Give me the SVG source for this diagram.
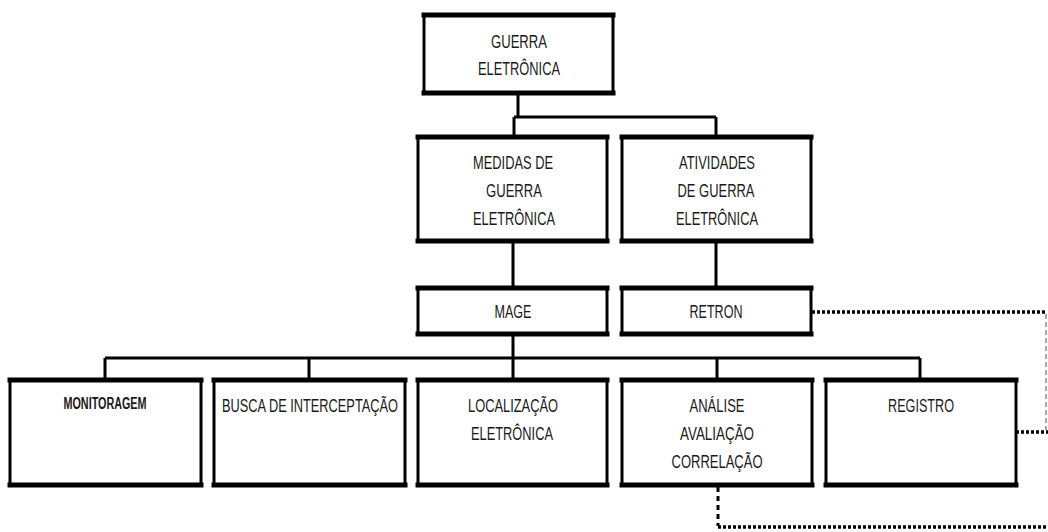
<svg xmlns="http://www.w3.org/2000/svg" width="1048" height="532" viewBox="0 0 1048 532">
  <style>
    .frame { fill: #fff; stroke: #000; stroke-width: 3; }
    .edge { stroke: #000; stroke-width: 5; stroke-linecap: square; }
    .label { font-family: "Liberation Sans", Arial, sans-serif; font-size: 19px; fill: #1a1a1a; text-anchor: middle; }
    .bold { font-weight: bold; font-size: 16px; }
    .link { fill: none; stroke: #000; stroke-width: 3; }
    .dot { fill: none; stroke: #000; stroke-width: 3.5; stroke-dasharray: 3 2; }
    .dash { fill: none; stroke: #000; stroke-width: 3; stroke-dasharray: 5 4; }
    .thin { fill: none; stroke: #888; stroke-width: 1.5; stroke-dasharray: 5 3; }
  </style>

  <!-- connectors -->
  <g id="connectors">
    <path class="link" d="M518 93 V117 M514 117 H716 M514 117 V137 M716 117 V137"/>
    <path class="link" d="M513 241 V287 M716 241 V287"/>
    <path class="link" d="M513 334 V358 M105 358 H920 M105 358 V380 M309 358 V380 M513 358 V380 M717 358 V380 M920 358 V380"/>
    <path class="dot" d="M812 312 H1046"/>
    <path class="thin" d="M1046 314 V430"/>
    <path class="dot" d="M1016 432 H1048"/>
    <path class="dash" d="M718 487 V526"/>
    <path class="dot" d="M718 527 H1048"/>
  </g>

  <g id="guerra-eletronica">
    <rect class="frame" x="424" y="15" width="189" height="78"/>
    <path class="edge" d="M424 15 H613 M424 93 H613"/>
    <text class="label" x="519" y="48" textLength="56" lengthAdjust="spacingAndGlyphs">GUERRA</text>
    <text class="label" x="519" y="75" textLength="82" lengthAdjust="spacingAndGlyphs">ELETRÔNICA</text>
  </g>

  <g id="medidas">
    <rect class="frame" x="418" y="137" width="189" height="104"/>
    <path class="edge" d="M418 137 H607 M418 241 H607"/>
    <text class="label" x="513" y="169" textLength="80" lengthAdjust="spacingAndGlyphs">MEDIDAS DE</text>
    <text class="label" x="514" y="197" textLength="56" lengthAdjust="spacingAndGlyphs">GUERRA</text>
    <text class="label" x="514" y="225" textLength="82" lengthAdjust="spacingAndGlyphs">ELETRÔNICA</text>
  </g>

  <g id="atividades">
    <rect class="frame" x="622" y="137" width="189" height="104"/>
    <path class="edge" d="M622 137 H811 M622 241 H811"/>
    <text class="label" x="717" y="169" textLength="76" lengthAdjust="spacingAndGlyphs">ATIVIDADES</text>
    <text class="label" x="716" y="197" textLength="77" lengthAdjust="spacingAndGlyphs">DE GUERRA</text>
    <text class="label" x="717" y="225" textLength="82" lengthAdjust="spacingAndGlyphs">ELETRÔNICA</text>
  </g>

  <g id="mage">
    <rect class="frame" x="418" y="288" width="189" height="46"/>
    <path class="edge" d="M418 288 H607 M418 334 H607"/>
    <text class="label" x="513" y="318" textLength="37" lengthAdjust="spacingAndGlyphs">MAGE</text>
  </g>

  <g id="retron">
    <rect class="frame" x="622" y="288" width="189" height="46"/>
    <path class="edge" d="M622 288 H811 M622 334 H811"/>
    <text class="label" x="716" y="318" textLength="53" lengthAdjust="spacingAndGlyphs">RETRON</text>
  </g>

  <g id="monitoragem">
    <rect class="frame" x="10" y="380" width="191" height="105"/>
    <path class="edge" d="M10 380 H201 M10 485 H201"/>
    <text class="label bold" x="105" y="409" textLength="83" lengthAdjust="spacingAndGlyphs">MONITORAGEM</text>
  </g>

  <g id="busca">
    <rect class="frame" x="214" y="380" width="191" height="105"/>
    <path class="edge" d="M214 380 H405 M214 485 H405"/>
    <text class="label" x="310" y="412" textLength="176" lengthAdjust="spacingAndGlyphs">BUSCA DE INTERCEPTAÇÃO</text>
  </g>

  <g id="localizacao">
    <rect class="frame" x="418" y="380" width="189" height="105"/>
    <path class="edge" d="M418 380 H607 M418 485 H607"/>
    <text class="label" x="513" y="412" textLength="90" lengthAdjust="spacingAndGlyphs">LOCALIZAÇÃO</text>
    <text class="label" x="512" y="440" textLength="82" lengthAdjust="spacingAndGlyphs">ELETRÔNICA</text>
  </g>

  <g id="analise">
    <rect class="frame" x="622" y="380" width="190" height="105"/>
    <path class="edge" d="M622 380 H812 M622 485 H812"/>
    <text class="label" x="717" y="412" textLength="55" lengthAdjust="spacingAndGlyphs">ANÁLISE</text>
    <text class="label" x="717" y="440" textLength="74" lengthAdjust="spacingAndGlyphs">AVALIAÇÃO</text>
    <text class="label" x="717" y="468" textLength="91" lengthAdjust="spacingAndGlyphs">CORRELAÇÃO</text>
  </g>

  <g id="registro">
    <rect class="frame" x="826" y="380" width="190" height="105"/>
    <path class="edge" d="M826 380 H1016 M826 485 H1016"/>
    <text class="label" x="921" y="412" textLength="66" lengthAdjust="spacingAndGlyphs">REGISTRO</text>
  </g>
</svg>
